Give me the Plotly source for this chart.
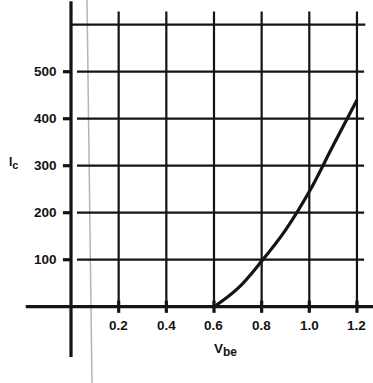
import plotly.graph_objects as go

# Data
vbe = [0.6, 0.7, 0.8, 0.9, 1.0, 1.1, 1.2]
ic = [0, 39, 97, 163, 245, 343, 440]

x_ticks = [0.2, 0.4, 0.6, 0.8, 1.0, 1.2]
x_tick_labels = ["0.2", "0.4", "0.6", "0.8", "1.0", "1.2"]
y_ticks = [100, 200, 300, 400, 500]
y_tick_labels = ["100", "200", "300", "400", "500"]
y_top_grid = 600

INK = "#141414"
FONT = "Liberation Sans, Arial, sans-serif"

fig = go.Figure()

fig.add_trace(go.Scatter(
    x=vbe, y=ic, mode="lines",
    line=dict(color=INK, width=3.2, shape="spline", smoothing=1.1),
    hoverinfo="skip", showlegend=False,
))

shapes = []
# scanning artifact: faint gray vertical line
shapes.append(dict(type="line", xref="paper", yref="paper",
                   x0=87/373, y0=1, x1=92/373, y1=0,
                   line=dict(color="#b5b5b5", width=1.5), layer="below"))
# vertical grid lines
for xv in x_ticks:
    shapes.append(dict(type="line", x0=xv, x1=xv, y0=0, y1=628,
                       line=dict(color=INK, width=2.2), layer="below"))
    shapes.append(dict(type="line", x0=xv, x1=xv, y0=-13, y1=13,
                       line=dict(color=INK, width=3.2), layer="below"))
# horizontal grid lines
for yv in y_ticks:
    shapes.append(dict(type="line", x0=0.025, x1=1.23, y0=yv, y1=yv,
                       line=dict(color=INK, width=2.2), layer="below"))
    shapes.append(dict(type="line", x0=-0.034, x1=0.004, y0=yv, y1=yv,
                       line=dict(color=INK, width=3.2), layer="below"))
shapes.append(dict(type="line", x0=0, x1=1.235, y0=y_top_grid, y1=y_top_grid,
                   line=dict(color=INK, width=2.2), layer="below"))
# axes
shapes.append(dict(type="line", x0=0, x1=0, y0=-107, y1=650,
                   line=dict(color=INK, width=3.2), layer="below"))
shapes.append(dict(type="line", x0=-0.19, x1=1.27, y0=0, y1=0,
                   line=dict(color=INK, width=3.2), layer="below"))

annotations = []
lab_font = dict(family=FONT, size=13.5, color=INK)
for xv, t in zip(x_ticks, x_tick_labels):
    annotations.append(dict(x=xv, y=-40, text="<b>" + t + "</b>", showarrow=False,
                            font=lab_font, xanchor="center", yanchor="middle"))
for yv, t in zip(y_ticks, y_tick_labels):
    annotations.append(dict(x=-0.05, y=yv, text="<b>" + t + "</b>", showarrow=False,
                            font=lab_font, xanchor="right", yanchor="middle"))
annotations.append(dict(x=-0.24, y=305,
                        text="<b>I<sub><span style='font-size:11px'>c</span></sub></b>",
                        showarrow=False, font=dict(family=FONT, size=12, color=INK),
                        xanchor="center", yanchor="middle"))
annotations.append(dict(x=0.648, y=-93,
                        text="<b>V<sub><span style='font-size:12px'>be</span></sub></b>",
                        showarrow=False, font=dict(family=FONT, size=13.5, color=INK),
                        xanchor="center", yanchor="middle"))

fig.update_layout(
    width=373, height=383,
    margin=dict(l=0, r=0, t=0, b=0),
    paper_bgcolor="white", plot_bgcolor="white",
    xaxis=dict(range=[-0.298, 1.2673], visible=False, fixedrange=True),
    yaxis=dict(range=[-162.3, 652.6], visible=False, fixedrange=True),
    shapes=shapes, annotations=annotations,
    showlegend=False,
)

fig.write_html("out.html", config={"displayModeBar": False},
               post_script="document.body.style.margin='0';document.body.style.overflow='hidden';")
